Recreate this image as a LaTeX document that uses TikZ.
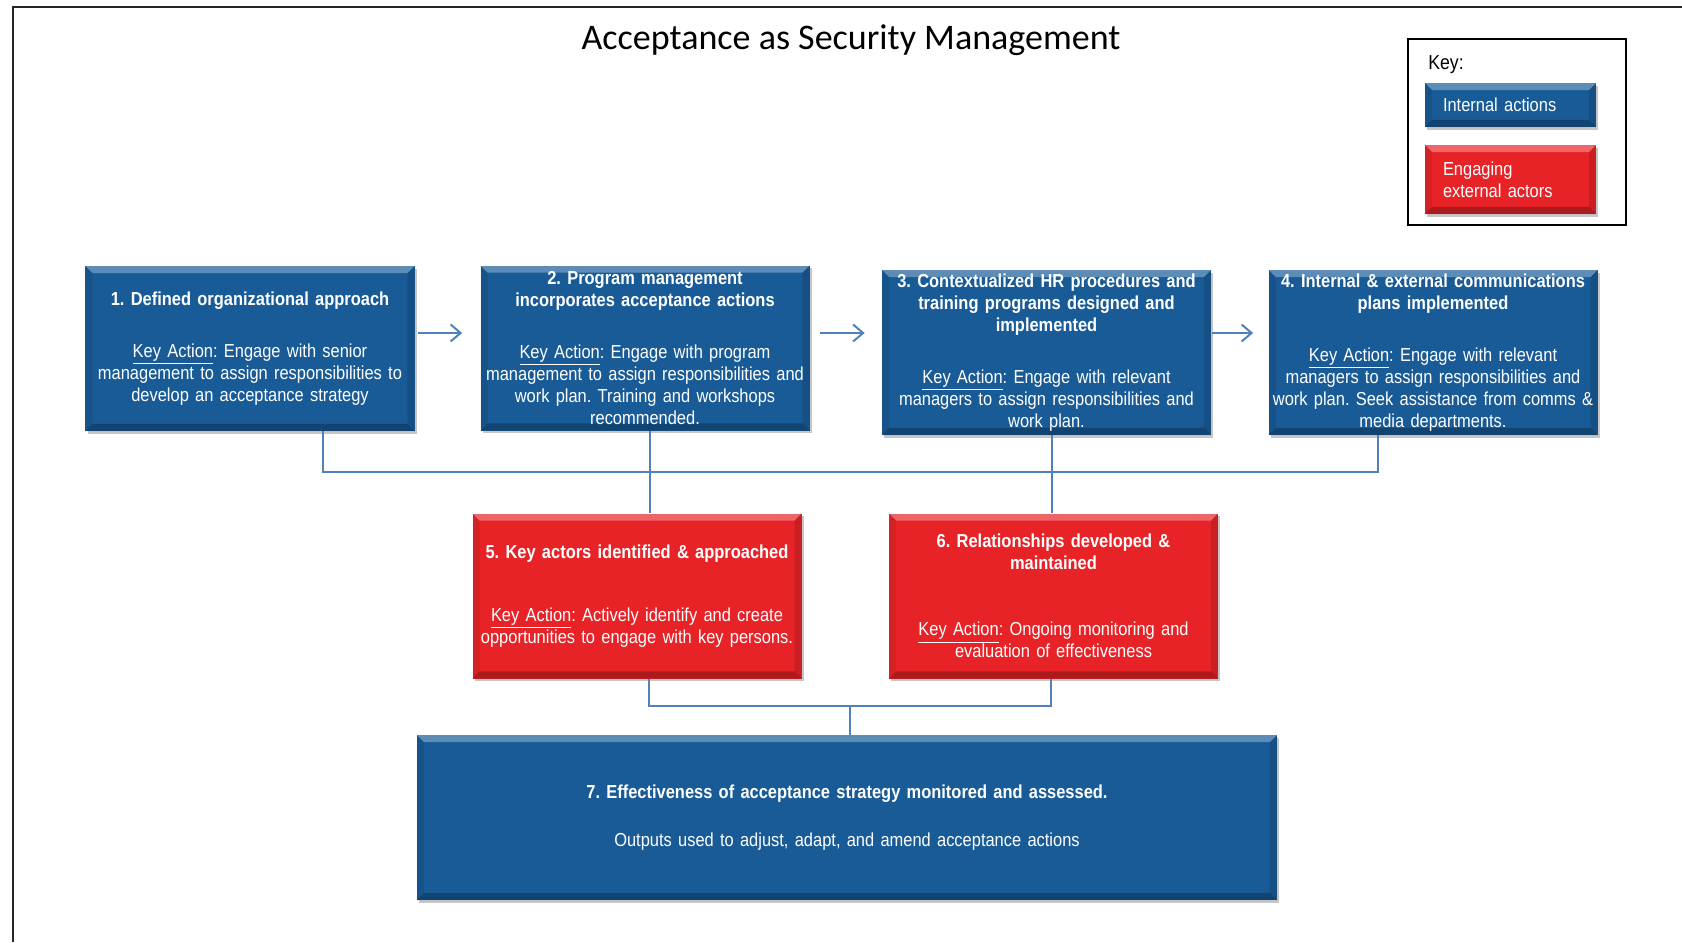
\documentclass[tikz,border=0pt]{standalone}
\usepackage{fontspec}
\setmainfont{Liberation Sans}[FakeStretch=0.875]
\newfontfamily\titlefont{Carlito}
\usetikzlibrary{arrows.meta,calc,shadows}
\definecolor{boxblue}{RGB}{24,91,151}
\definecolor{boxred}{RGB}{232,35,40}
\definecolor{linkblue}{RGB}{79,129,189}
\frenchspacing
\hyphenpenalty=10000

\begin{document}
\begin{tikzpicture}[x=0.2mm, y=-0.2mm,
    bevel/.style={path picture={
      \fill[white,opacity=.3] (path picture bounding box.north west) -- (path picture bounding box.north east)
        -- ([shift={(-4pt,-4pt)}]path picture bounding box.north east) -- ([shift={(4pt,-4pt)}]path picture bounding box.north west) -- cycle;
      \fill[black,opacity=.25] (path picture bounding box.south west) -- (path picture bounding box.south east)
        -- ([shift={(-4pt,4pt)}]path picture bounding box.south east) -- ([shift={(4pt,4pt)}]path picture bounding box.south west) -- cycle;
      \fill[black,opacity=.12] (path picture bounding box.north east) -- (path picture bounding box.south east)
        -- ([shift={(-4pt,4pt)}]path picture bounding box.south east) -- ([shift={(-4pt,-4pt)}]path picture bounding box.north east) -- cycle;
      \fill[black,opacity=.08] (path picture bounding box.north west) -- (path picture bounding box.south west)
        -- ([shift={(4pt,4pt)}]path picture bounding box.south west) -- ([shift={(4pt,-4pt)}]path picture bounding box.north west) -- cycle;
    }},
    box/.style={bevel, text=white, align=center, text width=65.8mm, inner xsep=0pt, inner ysep=1pt,
      minimum height=33mm, font=\fontsize{10.7}{12.6}\selectfont,
      drop shadow={shadow xshift=1.3pt, shadow yshift=-1.6pt, opacity=.45}},
    internal/.style={box, fill=boxblue},
    external/.style={box, fill=boxred},
    link/.style={draw=linkblue, line width=0.4mm},
    flow/.style={link, -{Straight Barb[length=2mm,width=3.4mm]}}]

  \useasboundingbox (0,0) rectangle (1682,942);

  % Frame and title
  \draw[line width=0.4mm, black!85] (13,942) -- (13,7) -- (1682,7);
  \node[font=\titlefont\fontsize{20.5}{24}\selectfont] (title) at (851,40) {Acceptance as Security Management};

  % Key
  \draw[line width=0.35mm] (1408,39) rectangle (1626,225);
  \node[anchor=west, inner sep=0pt, font=\fontsize{11.5}{13}\selectfont] (keylabel) at (1428,65) {Key:};
  \node[internal, align=left, text width=27mm, inner xsep=3.6mm, minimum height=8.8mm] (kint) at (1510.5,105) {Internal actions};
  \node[external, align=left, text width=27mm, inner xsep=3.6mm, minimum height=13.8mm] (kext) at (1510.5,179.5) {Engaging\\ external actors};

  % Top row: internal actions
  \node[internal] (b1) at (250,348.5) {\textbf{1. Defined organizational approach}\\[16.8pt]
    \underline{Key Action}: Engage with senior\\ management to assign responsibilities to\\ develop an acceptance strategy};
  \node[internal] (b2) at (645,348) {\textbf{2. Program management\\ incorporates acceptance actions}\\[16.8pt]
    \underline{Key Action}: Engage with program\\ management to assign responsibilities and\\ work plan. Training and workshops\\ recommended.};
  \node[internal] (b3) at (1046.5,352.5) {\textbf{3. Contextualized HR procedures and\\ training programs designed and\\ implemented}\\[16.8pt]
    \underline{Key Action}: Engage with relevant\\ managers to assign responsibilities and\\ work plan.};
  \node[internal] (b4) at (1433,352.5) {\textbf{4. Internal \& external communications\\ plans implemented}\\[16.8pt]
    \underline{Key Action}: Engage with relevant\\ managers to assign responsibilities and\\ work plan. Seek assistance from comms \&\\ media departments.};

  % Middle row: engaging external actors
  \node[external] (b5) at (637,596) {\textbf{5. Key actors identified \& approached}\\[23pt]
    \underline{Key Action}: Actively identify and create\\ opportunities to engage with key persons.};
  \node[external] (b6) at (1053.5,596) {\textbf{6. Relationships developed \&\\ maintained}\\[25pt]
    \underline{Key Action}: Ongoing monitoring and\\ evaluation of effectiveness};

  % Bottom: monitoring
  \node[internal, text width=172mm] (b7) at (847,817.5) {\textbf{7. Effectiveness of acceptance strategy monitored and assessed.}\\[14.5pt]
    Outputs used to adjust, adapt, and amend acceptance actions};

  % Arrows between the top steps
  \draw[flow] ($(b1.east)+(3,-15.5)$) -- ($(b2.west)+(-18,-15)$);
  \draw[flow] ($(b2.east)+(10,-15)$) -- ($(b3.west)+(-17,-19.5)$);
  \draw[flow] ($(b3.east)+(1,-19.5)$) -- ($(b4.west)+(-15,-19.5)$);

  % Connecting lines
  \draw[link] ($(b1.south)+(73,0)$) |- ($(b4.south)+(-55,37)$) -- ($(b4.south)+(-55,0)$);
  \draw[link] ($(b2.south)+(5,0)$) -- ($(b5.north)+(13,0)$);
  \draw[link] ($(b3.south)+(5,0)$) -- ($(b6.north)+(-2,0)$);
  \draw[link] ($(b5.south)+(12,0)$) |- ($(b6.south)+(-2.5,27)$) -- ($(b6.south)+(-2.5,0)$);
  \coordinate (merge) at (850,705);
  \draw[link] (merge) -- (merge |- b7.north);
\end{tikzpicture}
\end{document}
